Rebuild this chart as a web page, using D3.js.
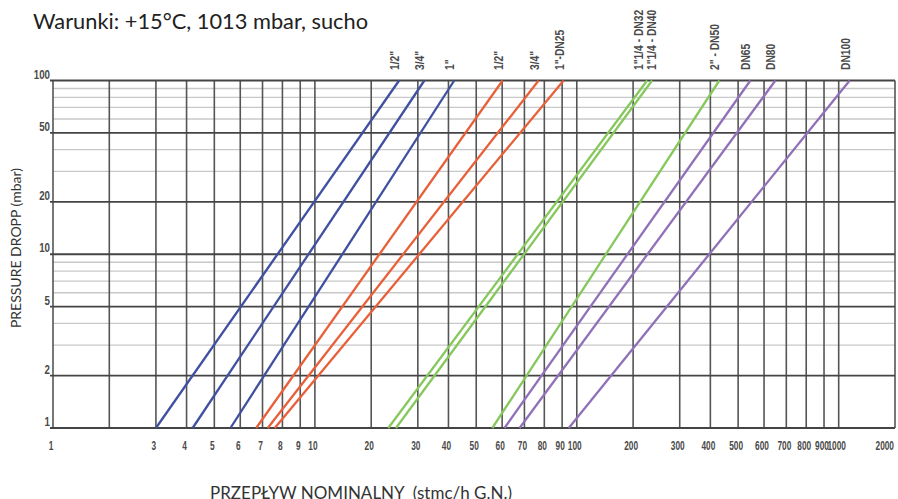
<!DOCTYPE html>
<html>
<head>
<meta charset="utf-8">
<script src="https://cdn.jsdelivr.net/npm/d3@7"></script>
<style>
  body { margin: 0; background: #fff; }
  svg { display: block; }
  .tick-lbl { font-family: "Liberation Sans", Arial, sans-serif; fill: #4a4a4a; }
</style>
</head>
<body>
<svg></svg>
<script>
// values
var titleText = 'Warunki: +15°C, 1013 mbar, sucho';
var xTitle = 'PRZEPŁYW NOMINALNY  (stmc/h G.N.)';
var yTitle = 'PRESSURE DROPP (mbar)';

var xGrid = [1, 2, 3, 4, 5, 6, 7, 8, 9, 10, 20, 30, 40, 50, 60, 70, 80, 90, 100,
             200, 300, 400, 500, 600, 700, 800, 900, 1000, 2000];
var xTickLabels = [1, 3, 4, 5, 6, 7, 8, 9, 10, 20, 30, 40, 50, 60, 70, 80, 90, 100,
                   200, 300, 400, 500, 600, 700, 800, 900, 1000, 2000];
var yMajor = [1, 2, 5, 10, 20, 50, 100];
var yMinor = [3, 4, 6, 7, 8, 9, 30, 40, 60, 70, 80, 90];

var lineNames = ['1/2"', '3/4"', '1"', '1/2"', '3/4"', '1"-DN25',
                 '1"1/4 - DN32', '1"1/4 - DN40', '2" - DN50', 'DN65', 'DN80', 'DN100'];
var lineGroup = ['blue', 'blue', 'blue', 'red', 'red', 'red',
                 'green', 'green', 'green', 'purple', 'purple', 'purple'];
// flow at 1 mbar and at 100 mbar
var flowAt1 = [3.0, 4.2, 5.6, 6.7, 7.25, 7.6, 23.2, 24.8, 56, 61, 67.7, 94.4];
var flowAt100 = [25.5, 31.9, 41.9, 60.2, 77, 91, 226, 236, 430, 545, 649, 1145];

var colors = { blue: '#4050a0', red: '#e8603a', green: '#86c85c', purple: '#9070b8' };

var W = 898, H = 499;
var padL = 53, padR = 895, padT = 80.5, padB = 428;

var svg = d3.select('svg').attr('width', W).attr('height', H);

// the paper is not a true log scale inside a decade, so spread each decade
// by these fractions (measured from the printed grid)
var decadeFrac = [0, 0.215, 0.393, 0.51, 0.616, 0.715, 0.80, 0.876, 0.944];
var decadeW = (padR - padL) / (3 + decadeFrac[1]);
var x = d3.scaleLog()
    .domain(xGrid)
    .range(xGrid.map(function(v) {
        var e = Math.floor(Math.log10(v) + 1e-9);
        var m = Math.round(v / Math.pow(10, e));
        return padL + decadeW * (e + decadeFrac[m - 1]);
    }));

var y = d3.scaleLog().domain([1, 100]).range([padB, padT]);

// title
svg.append('text')
    .attr('x', 33).attr('y', 29)
    .attr('font-family', 'Lato, "Open Sans", sans-serif')
    .attr('font-size', 21.8)
    .attr('fill', '#222')
    .text(titleText);

// minor horizontal grid
svg.selectAll('line.ymin')
    .data(yMinor)
    .enter().append('line')
    .attr('class', 'ymin')
    .attr('x1', padL).attr('x2', padR)
    .attr('y1', d => y(d)).attr('y2', d => y(d))
    .attr('stroke', '#c8c8c8')
    .attr('stroke-width', 1.4);

// vertical grid
svg.selectAll('line.xg')
    .data(xGrid)
    .enter().append('line')
    .attr('class', 'xg')
    .attr('x1', d => x(d)).attr('x2', d => x(d))
    .attr('y1', padT).attr('y2', padB)
    .attr('stroke', '#555')
    .attr('stroke-width', 1.6);

// major horizontal grid
svg.selectAll('line.ymaj')
    .data(yMajor)
    .enter().append('line')
    .attr('class', 'ymaj')
    .attr('x1', padL - 3).attr('x2', padR)
    .attr('y1', d => y(d)).attr('y2', d => y(d))
    .attr('stroke', '#444')
    .attr('stroke-width', 1.8);

// y tick labels sit a bit above their line, squeezed like a narrow font
svg.selectAll('text.ylbl')
    .data(yMajor)
    .enter().append('text')
    .attr('class', 'tick-lbl ylbl')
    .attr('transform', d => 'translate(' + (padL - 3) + ',' + (y(d) - 2) + ') scale(0.75,1)')
    .attr('text-anchor', 'end')
    .attr('font-size', 13)
    .attr('font-weight', 'bold')
    .text(d => d);

// x tick labels
var lastX = xTickLabels.length - 1;
svg.selectAll('text.xlbl')
    .data(xTickLabels)
    .enter().append('text')
    .attr('class', 'tick-lbl xlbl')
    .attr('transform', (d, i) => 'translate(' + (i === lastX ? x(d) - 1 : x(d) - 2) + ',450) scale(0.64,1)')
    .attr('text-anchor', (d, i) => i === lastX ? 'end' : 'middle')
    .attr('font-size', 13)
    .attr('font-weight', 'bold')
    .text(d => d);

// pressure drop lines
var lines = lineNames.map(function(name, i) {
    return { name: name, group: lineGroup[i], pts: [[flowAt1[i], 1], [flowAt100[i], 100]] };
});

var lineGen = d3.line().x(d => x(d[0])).y(d => y(d[1]));

svg.selectAll('path.pd')
    .data(lines)
    .enter().append('path')
    .attr('class', 'pd')
    .attr('d', d => lineGen(d.pts))
    .attr('fill', 'none')
    .attr('stroke', d => colors[d.group])
    .attr('stroke-width', 2.3);

// labels on top, pushed apart when two lines end close together
var lx = lines.map(d => x(d.pts[1][0]) - 4);
for (var i = 1; i < lx.length; i++) {
    var gap = lx[i] - lx[i - 1];
    if (gap < 13) {
        lx[i - 1] -= (13 - gap) / 2;
        lx[i] += (13 - gap) / 2;
    }
}

svg.selectAll('text.nm')
    .data(lines)
    .enter().append('text')
    .attr('class', 'tick-lbl nm')
    .attr('transform', (d, i) => 'translate(' + (lx[i] + 4) + ',70) rotate(-90) scale(0.82,1)')
    .attr('font-size', 12.5)
    .attr('font-weight', 'bold')
    .attr('fill', '#3a3a3a')
    .text(d => d.name);

// axis titles
svg.append('text')
    .attr('transform', 'translate(21,248) rotate(-90)')
    .attr('text-anchor', 'middle')
    .attr('font-family', 'Lato, "Open Sans", sans-serif')
    .attr('font-size', 14)
    .attr('fill', '#333')
    .text(yTitle);

svg.append('text')
    .attr('x', 361).attr('y', 499)
    .attr('text-anchor', 'middle')
    .attr('font-family', 'Lato, "Open Sans", sans-serif')
    .attr('font-size', 17)
    .attr('fill', '#333')
    .style('white-space', 'pre')
    .text(xTitle);
</script>
</body>
</html>
